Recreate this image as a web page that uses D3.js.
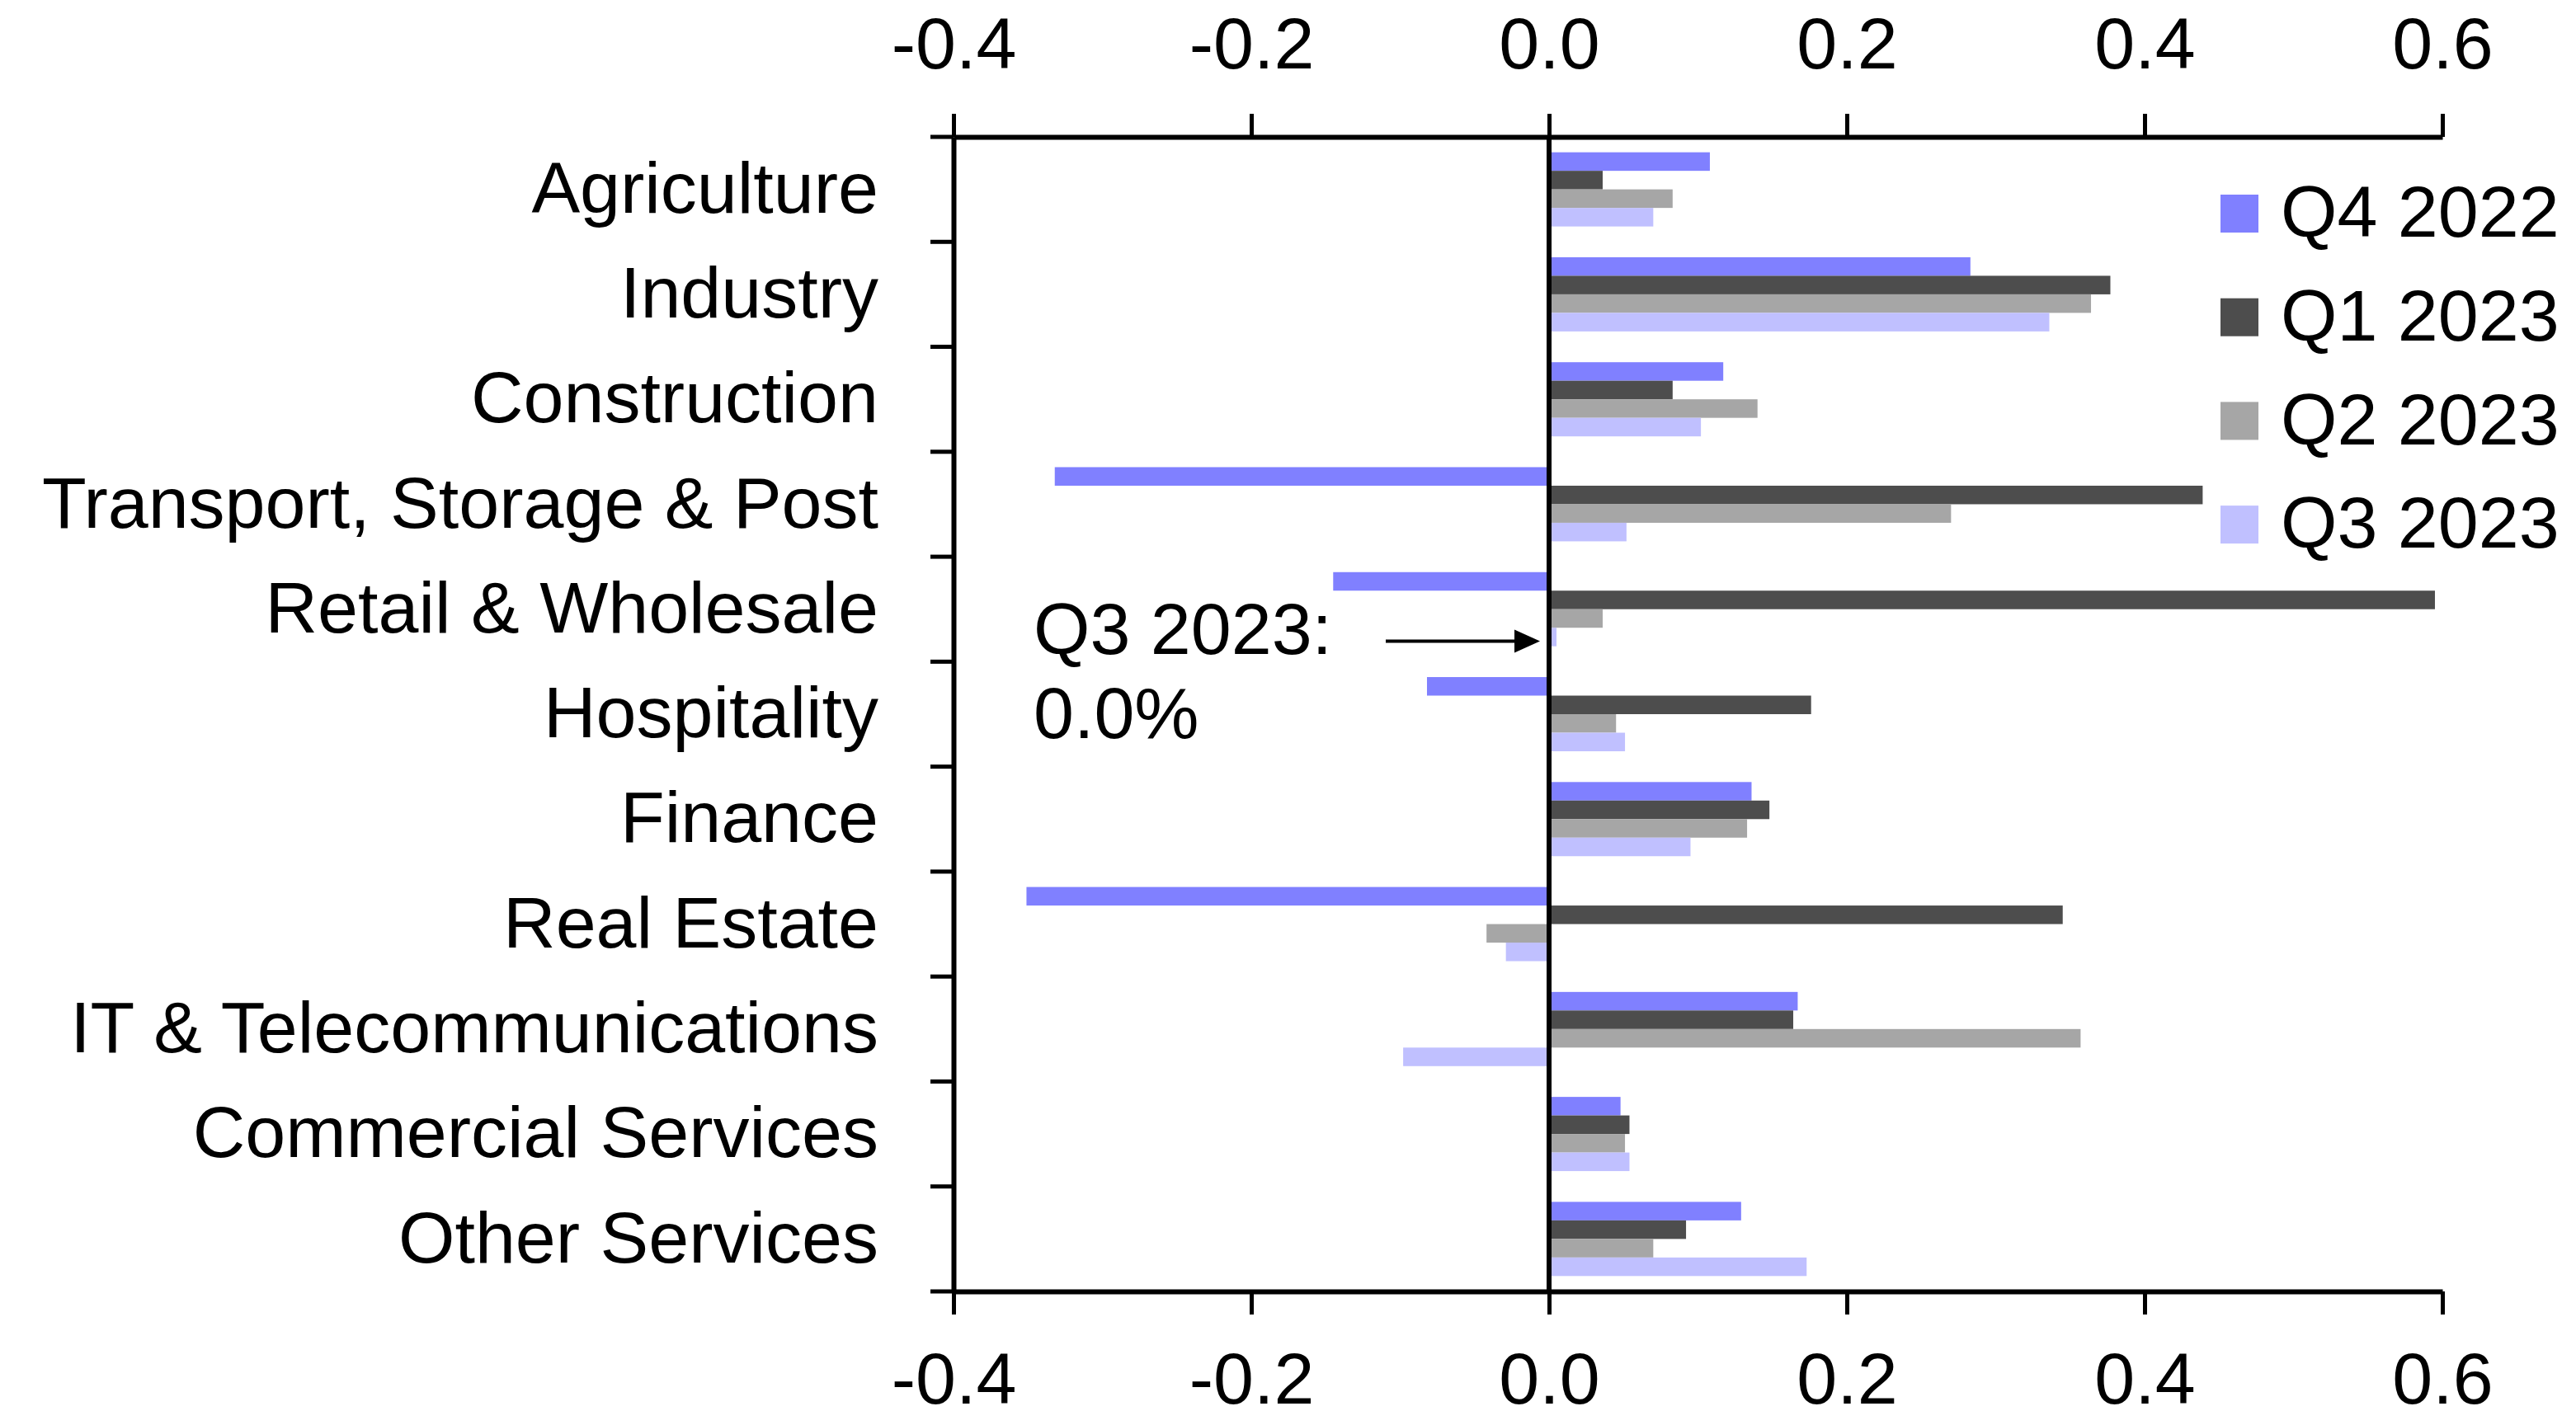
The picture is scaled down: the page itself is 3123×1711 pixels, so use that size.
<!DOCTYPE html>
<html>
<head>
<meta charset="utf-8">
<script src="https://cdn.jsdelivr.net/npm/d3@7"></script>
<style>
  body { margin: 0; background: #fff; }
  text { font-family: "Liberation Sans", Arial, sans-serif; fill: #000; }
</style>
</head>
<body>
<div id="chart-area"></div>
<script>
// sectors, top to bottom
const categories = ["Agriculture", "Industry", "Construction", "Transport, Storage & Post",
    "Retail & Wholesale", "Hospitality", "Finance", "Real Estate",
    "IT & Telecommunications", "Commercial Services", "Other Services"];

const series = ["Q4 2022", "Q1 2023", "Q2 2023", "Q3 2023"];
const colors = ["#8080ff", "#4d4d4d", "#a6a6a6", "#c0c0ff"];

// values per quarter, same order as categories
const q4_2022 = [0.108, 0.283, 0.117, -0.332, -0.145, -0.082, 0.136, -0.351, 0.167, 0.048, 0.129];
const q1_2023 = [0.036, 0.377, 0.083, 0.439, 0.595, 0.176, 0.148, 0.345, 0.164, 0.054, 0.092];
const q2_2023 = [0.083, 0.364, 0.140, 0.270, 0.036, 0.045, 0.133, -0.042, 0.357, 0.051, 0.070];
const q3_2023 = [0.070, 0.336, 0.102, 0.052, 0.005, 0.051, 0.095, -0.029, -0.098, 0.054, 0.173];

const xTicks = [-0.4, -0.2, 0.0, 0.2, 0.4, 0.6];

const values = [q4_2022, q1_2023, q2_2023, q3_2023];

var width = 3123, height = 1711;
var plot = {left: 1156, right: 2961, top: 166, bottom: 1566};

var svg = d3.select("#chart-area")
    .append("svg")
        .attr("width", width)
        .attr("height", height);

var x = d3.scaleLinear()
    .domain([-0.4, 0.6])
    .range([plot.left, plot.right]);

var y = d3.scaleBand()
    .domain(categories)
    .range([plot.top, plot.bottom]);

var ySub = d3.scaleBand()
    .domain(series)
    .range([0, y.bandwidth()])
    .paddingOuter(0.83);

var color = d3.scaleOrdinal().domain(series).range(colors);

// flatten into rows for the bars
var rows = [];
categories.forEach(function(c, i){
    series.forEach(function(s, j){
        rows.push({category: c, series: s, value: values[j][i]});
    });
});

svg.append("g").selectAll("rect")
    .data(rows)
    .enter().append("rect")
        .attr("x", function(d){ return x(Math.min(0, d.value)); })
        .attr("y", function(d){ return y(d.category) + ySub(d.series); })
        .attr("width", function(d){ return Math.abs(x(d.value) - x(0)); })
        .attr("height", ySub.bandwidth())
        .attr("fill", function(d){ return color(d.series); });

// zero line
svg.append("line")
    .attr("x1", x(0)).attr("x2", x(0))
    .attr("y1", plot.top).attr("y2", plot.bottom)
    .attr("stroke", "#000")
    .attr("stroke-width", 6);

var fmt = function(d){ return d.toFixed(1); };

// top axis
var topAxis = svg.append("g")
    .attr("transform", "translate(0," + plot.top + ")")
    .call(d3.axisTop(x).tickValues(xTicks).tickFormat(fmt)
        .tickSize(28).tickSizeOuter(0).tickPadding(55));

// bottom axis
var bottomAxis = svg.append("g")
    .attr("transform", "translate(0," + plot.bottom + ")")
    .call(d3.axisBottom(x).tickValues(xTicks).tickFormat(fmt)
        .tickSize(28).tickSizeOuter(0).tickPadding(46));

[topAxis, bottomAxis].forEach(function(a){
    a.select(".domain").attr("stroke-width", 6);
    a.selectAll(".tick line").attr("stroke-width", 5);
    a.selectAll("text").attr("font-size", 88).attr("font-family", null);
});

// category axis on the left
var leftAxis = svg.append("g")
    .attr("transform", "translate(" + plot.left + ",0)")
    .call(d3.axisLeft(y).tickSize(0).tickPadding(91));

leftAxis.select(".domain")
    .attr("stroke-width", 6);
leftAxis.selectAll("text")
    .attr("font-size", 88)
    .attr("font-family", null);

// ticks between categories
var bounds = categories.map(function(c){ return y(c); }).concat([y.range()[1]]);
leftAxis.append("g").selectAll("line")
    .data(bounds)
    .enter().append("line")
        .attr("x1", -28).attr("x2", 0)
        .attr("y1", function(d){ return d; })
        .attr("y2", function(d){ return d; })
        .attr("stroke", "#000")
        .attr("stroke-width", 5);

// legend
var legend = svg.append("g")
    .attr("transform", "translate(2692, 259)");

var items = legend.selectAll("g")
    .data(series)
    .enter().append("g")
        .attr("transform", function(d, i){ return "translate(0," + (i * 125.7) + ")"; });

items.append("rect")
    .attr("x", 0).attr("y", -23)
    .attr("width", 46).attr("height", 46)
    .attr("fill", function(d){ return color(d); });

items.append("text")
    .attr("x", 73)
    .attr("dy", "0.32em")
    .attr("font-size", 88)
    .text(function(d){ return d; });

// annotation for the Retail Q3 bar
var arrowY = y("Retail & Wholesale") + ySub("Q3 2023") + ySub.bandwidth() / 2 + 5;
var noteX = x(0) - 625;

svg.append("text")
    .attr("x", noteX).attr("y", arrowY + 16)
    .attr("font-size", 88)
    .text("Q3 2023:");
svg.append("text")
    .attr("x", noteX).attr("y", arrowY + 118)
    .attr("font-size", 88)
    .text("0.0%");

svg.append("line")
    .attr("x1", x(0) - 198).attr("x2", x(0) - 38)
    .attr("y1", arrowY).attr("y2", arrowY)
    .attr("stroke", "#000")
    .attr("stroke-width", 4);

svg.append("path")
    .attr("d", "M" + (x(0) - 11) + "," + arrowY +
               "L" + (x(0) - 42) + "," + (arrowY - 14) +
               "L" + (x(0) - 42) + "," + (arrowY + 14) + "Z")
    .attr("fill", "#000");
</script>
</body>
</html>
